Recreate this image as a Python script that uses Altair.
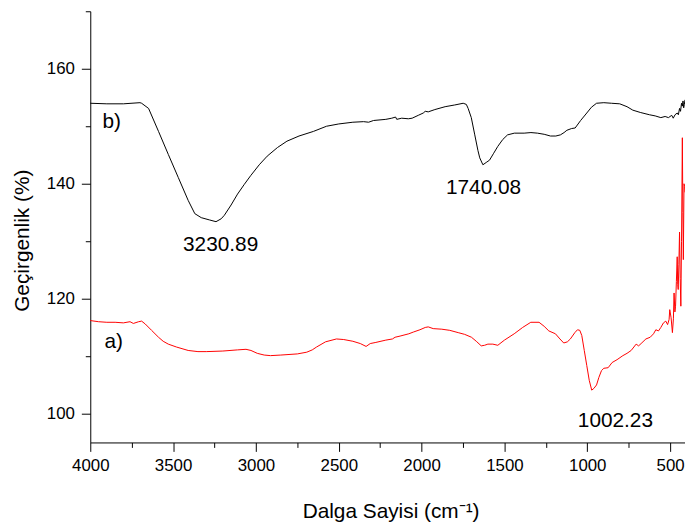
import altair as alt
import pandas as pd

# ---- data ----
b_x = [4000, 3900, 3800, 3700, 3690, 3648, 3588, 3529, 3469, 3409, 3369, 3330, 3280, 3241, 3210, 3191,
       3150, 3111, 3070, 3032, 2980, 2932, 2870, 2813, 2740, 2653, 2574, 2500, 2415, 2350, 2320, 2290,
       2216, 2180, 2157, 2150, 2120, 2080, 2057, 2020, 1990, 1978, 1960, 1920, 1858, 1800, 1749, 1730,
       1719, 1700, 1679, 1660, 1649, 1630, 1610, 1590, 1565, 1540, 1510, 1481, 1440, 1381, 1340, 1301,
       1260, 1222, 1190, 1162, 1140, 1123, 1095, 1073, 1040, 1003, 975, 944, 900, 854, 804, 760, 725,
       680, 625, 590, 556, 530, 510, 490, 481, 470, 457, 450, 443, 437, 431, 426, 422, 418, 414, 410]
b_y = [154.0, 153.9, 153.9, 154.1, 154.0, 153.1, 149.1, 145.1, 141.1, 137.1, 134.8, 134.1, 133.7, 133.4,
       133.9, 134.5, 136.3, 138.2, 139.9, 141.4, 143.3, 144.8, 146.3, 147.4, 148.3, 149.1, 150.0, 150.4,
       150.7, 150.8, 150.7, 151.0, 151.2, 151.4, 151.6, 151.2, 151.4, 151.3, 151.4, 151.9, 152.3, 152.6,
       152.5, 152.9, 153.4, 153.7, 154.0, 153.8, 153.1, 151.5, 148.5, 145.8, 144.5, 143.3, 143.7, 144.1,
       145.3, 146.5, 147.7, 148.5, 148.8, 148.8, 148.9, 148.8, 148.6, 148.3, 148.3, 148.5, 148.9, 149.3,
       149.6, 149.7, 151.0, 152.3, 153.3, 154.0, 154.1, 154.0, 153.9, 153.4, 152.8, 152.4, 152.0, 151.8,
       151.5, 151.7, 151.5, 151.9, 151.4, 152.0, 152.3, 152.0, 153.1, 152.6, 154.0, 153.5, 154.4, 153.2,
       153.8, 154.6]

a_x = [4000, 3950, 3900, 3850, 3800, 3760, 3740, 3708, 3690, 3668, 3630, 3588, 3560, 3529, 3480, 3409,
       3350, 3300, 3200, 3111, 3060, 3030, 2992, 2950, 2912, 2850, 2750, 2693, 2660, 2634, 2580, 2514,
       2470, 2415, 2370, 2335, 2310, 2276, 2216, 2176, 2160, 2130, 2077, 2050, 2010, 1978, 1960, 1930,
       1878, 1830, 1779, 1740, 1699, 1670, 1640, 1620, 1600, 1570, 1540, 1500, 1441, 1390, 1341, 1291,
       1260, 1232, 1192, 1165, 1142, 1120, 1102, 1075, 1059, 1045, 1033, 1018, 1003, 988, 973, 960, 944,
       930, 914, 900, 874, 850, 820, 785, 760, 735, 705, 690, 675, 646, 620, 600, 586, 570, 556, 540, 526,
       515, 506, 502, 494, 486, 480, 476, 471, 467, 462, 457, 454, 451, 447, 443, 439, 435, 431, 426, 423,
       420, 416, 412, 410]
a_y = [116.2, 116.0, 115.9, 115.9, 115.8, 116.0, 115.7, 116.0, 116.1, 115.6, 114.5, 113.3, 112.6, 112.1,
       111.6, 111.0, 110.8, 110.8, 110.9, 111.1, 111.2, 111.0, 110.5, 110.2, 110.1, 110.2, 110.4, 110.7,
       111.1, 111.6, 112.5, 113.0, 112.9, 112.6, 112.2, 111.7, 112.2, 112.4, 112.8, 113.0, 113.3, 113.5,
       113.9, 114.2, 114.6, 115.0, 115.1, 114.8, 114.7, 114.5, 114.1, 113.8, 113.3, 112.6, 111.8, 111.9,
       112.1, 112.1, 111.9, 112.8, 113.9, 115.0, 115.9, 115.9, 115.2, 114.4, 113.9, 113.0, 112.3, 112.5,
       113.0, 114.1, 114.6, 114.5, 113.6, 111.0, 108.4, 105.8, 104.1, 104.4, 105.0, 106.3, 107.5, 107.9,
       108.0, 108.9, 109.4, 110.1, 110.5, 111.0, 112.1, 111.8, 112.2, 113.0, 113.3, 113.9, 114.6, 114.4,
       115.0, 115.8, 116.1, 115.5, 116.4, 118.1, 116.7, 114.1, 116.5, 121.0, 117.7, 118.7, 123.0, 127.3,
       122.5, 121.6, 126.0, 131.6, 123.5, 118.7, 130.0, 148.0, 135.0, 126.8, 140.0, 139.5, 138.5]

x_major = [4000, 3500, 3000, 2500, 2000, 1500, 1000, 500]
x_minor = [3750, 3250, 2750, 2250, 1750, 1250, 750]
y_major = [100, 120, 140, 160]
y_minor = [110, 130, 150, 170]

ann_text = ["b)", "a)", "3230.89", "1740.08", "1002.23"]
ann_x = [3871, 3858, 3213, 1626, 830]
ann_y = [150.7, 112.4, 129.3, 139.2, 98.8]

df_b = pd.DataFrame({"x": b_x, "y": b_y})
df_a = pd.DataFrame({"x": a_x, "y": a_y})
df_t = pd.DataFrame({"x": ann_x, "y": ann_y, "t": ann_text})

FONT = "Liberation Sans"
xscale = alt.Scale(domain=[4000, 410], nice=False, zero=False)
yscale = alt.Scale(domain=[95, 170], nice=False, zero=False)

line_b = alt.Chart(df_b).mark_line(color="#000000", strokeWidth=1).encode(
    x=alt.X("x:Q", scale=xscale,
            axis=alt.Axis(values=x_major, format="d", tickSize=9, labelPadding=6,
                          labelFlush=False, labelOverlap=False,
                          orient="bottom", title="Dalga Sayisi (cm⁻¹)",
                          titleX=303, titleY=70, titleBaseline="middle", titleAlign="center")),
    y=alt.Y("y:Q", scale=yscale,
            axis=alt.Axis(values=y_major, format="d", tickSize=9, labelPadding=7,
                          labelFlush=False, labelOverlap=False,
                          orient="left", title="Geçirgenlik (%)",
                          titleX=-68, titleY=231, titleBaseline="middle", titleAlign="center")),
)

line_a = alt.Chart(df_a).mark_line(color="#ff0000", strokeWidth=1).encode(
    x=alt.X("x:Q", scale=xscale, axis=None),
    y=alt.Y("y:Q", scale=yscale, axis=None),
)

minor = alt.Chart(df_b).mark_line(opacity=0).encode(
    x=alt.X("x:Q", scale=xscale,
            axis=alt.Axis(values=x_minor, labels=False, tickSize=5, domain=False,
                          orient="bottom", title=None)),
    y=alt.Y("y:Q", scale=yscale,
            axis=alt.Axis(values=y_minor, labels=False, tickSize=5, domain=False,
                          orient="left", title=None)),
)

texts = alt.Chart(df_t).mark_text(font=FONT, fontSize=21, align="center",
                                  baseline="middle", color="#000000").encode(
    x=alt.X("x:Q", scale=xscale, axis=None),
    y=alt.Y("y:Q", scale=yscale, axis=None),
    text="t:N",
)

chart = alt.layer(line_b, line_a, minor, texts).resolve_axis(
    x="independent", y="independent"
).properties(
    width=600, height=435,
    padding={"left": 83, "top": 1, "right": 0, "bottom": 82},
    autosize=alt.AutoSizeParams(type="none"),
).configure_view(stroke=None).configure_axis(
    grid=False, domainColor="#000000", tickColor="#000000", domainWidth=1, tickWidth=1,
    labelColor="#000000", titleColor="#000000", labelFont=FONT, titleFont=FONT,
    labelFontSize=17, titleFontSize=21, titleFontWeight="normal",
)

chart.save("out.html", embed_options={"renderer": "svg", "actions": False})
